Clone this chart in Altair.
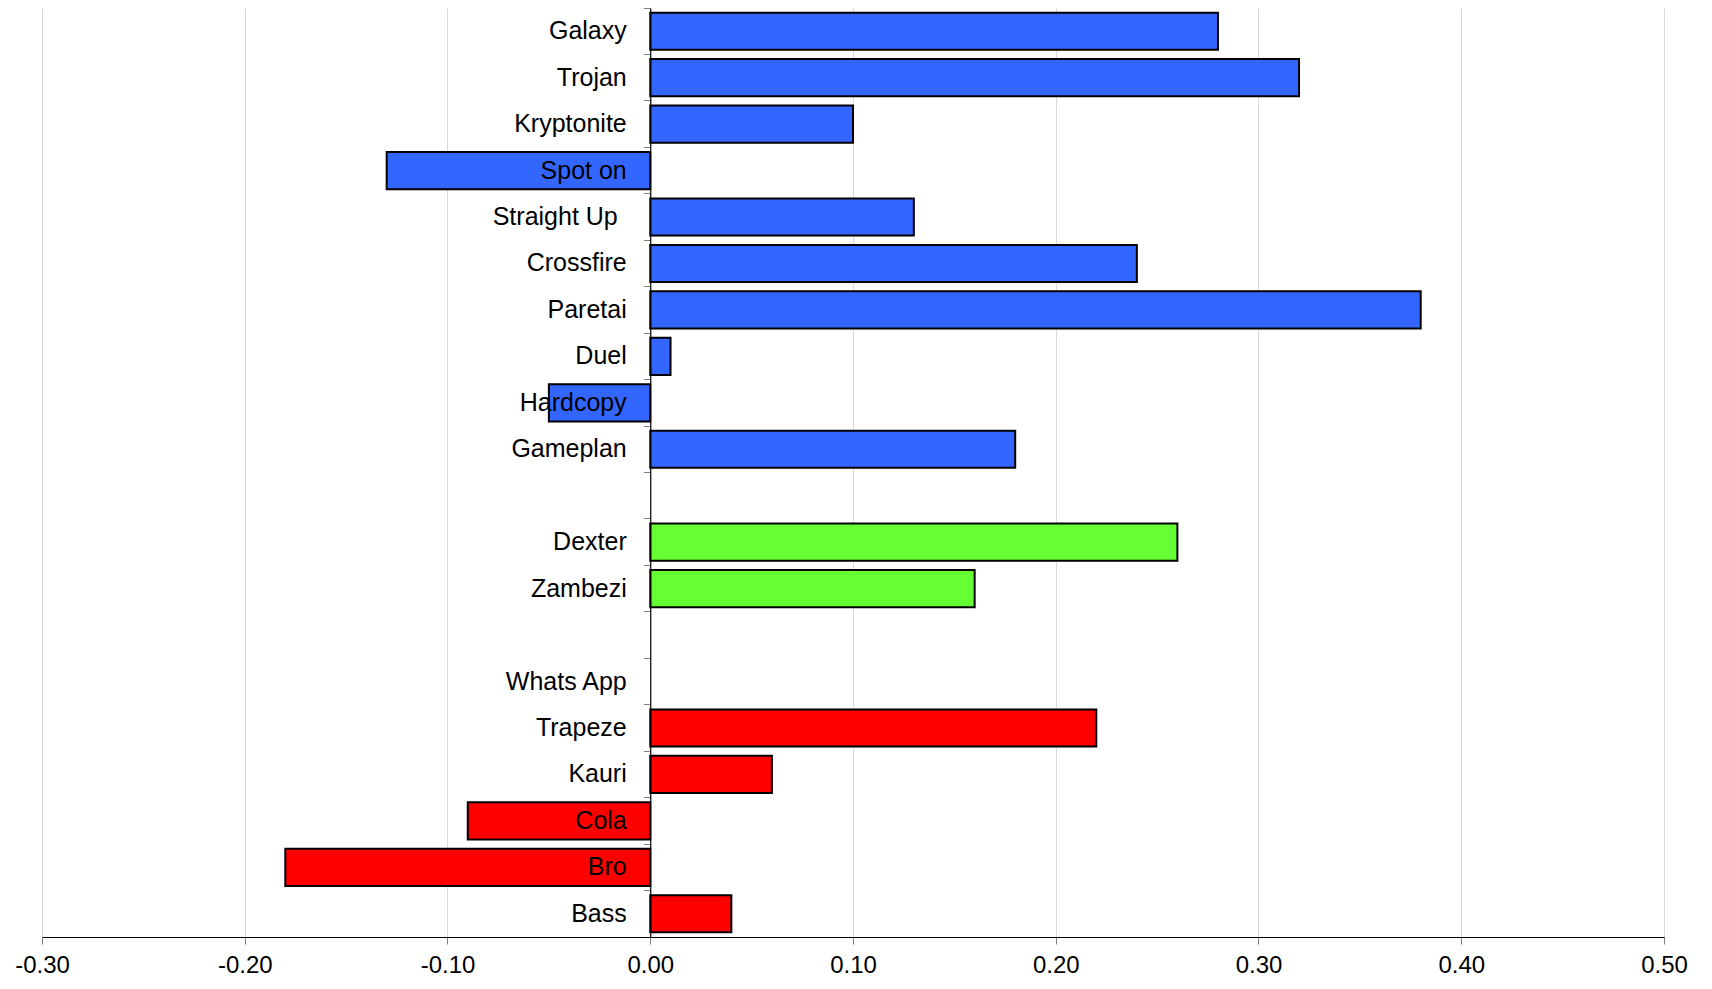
import altair as alt
import pandas as pd

# Row order (top to bottom), including two spacer rows
categories = ["Galaxy", "Trojan", "Kryptonite", "Spot on", "Straight Up", "Crossfire",
              "Paretai", "Duel", "Hardcopy", "Gameplan", " ", "Dexter", "Zambezi", "  ",
              "Whats App", "Trapeze", "Kauri", "Cola", "Bro", "Bass"]

bar_names = ["Galaxy", "Trojan", "Kryptonite", "Spot on", "Straight Up", "Crossfire",
             "Paretai", "Duel", "Hardcopy", "Gameplan", "Dexter", "Zambezi",
             "Trapeze", "Kauri", "Cola", "Bro", "Bass"]
bar_values = [0.28, 0.32, 0.10, -0.13, 0.13, 0.24, 0.38, 0.01, -0.05, 0.18,
              0.26, 0.16, 0.22, 0.06, -0.09, -0.18, 0.04]
bar_groups = ["Blue"] * 10 + ["Green"] * 2 + ["Red"] * 5

group_domain = ["Blue", "Green", "Red"]
group_colors = ["#3366FF", "#66FF33", "#FF0000"]

x_ticks = [-0.3, -0.2, -0.1, 0.0, 0.1, 0.2, 0.3, 0.4, 0.5]

df = pd.DataFrame({"name": bar_names, "value": bar_values, "group": bar_groups})

W, H = 1622, 929
zero_offset = W * 0.3 / 0.8

chart = alt.Chart(df).mark_bar(
    height={"band": 0.8}, stroke="black", strokeWidth=2
).encode(
    x=alt.X("value:Q",
            scale=alt.Scale(domain=[-0.3, 0.5], nice=False, zero=False),
            axis=alt.Axis(values=x_ticks, title=None, grid=True, gridColor="#d9d9d9",
                          domainColor="black", domainWidth=1.2, tickColor="#808080", tickSize=7,
                          labelFontSize=24, labelFont="Liberation Sans", labelColor="black",
                          labelPadding=9, labelFlush=False,
                          labelExpr="datum.value < 0 ? '-' + format(-datum.value, '.2f') : format(datum.value, '.2f')")),
    y=alt.Y("name:N",
            scale=alt.Scale(domain=categories, paddingInner=0, paddingOuter=0),
            sort=categories,
            axis=alt.Axis(title=None, offset=-zero_offset, bandPosition=0, zindex=1,
                          domainColor="black", domainWidth=1.2, tickColor="#808080", tickSize=7,
                          labelPadding={"condition": {"test": "datum.value == 'Straight Up'", "value": 26},
                                        "value": 17},
                          labelFontSize=25, labelFont="Liberation Sans",
                          labelColor="black", labelLimit=0, grid=False)),
    color=alt.Color("group:N", scale=alt.Scale(domain=group_domain, range=group_colors), legend=None),
).properties(
    width=W, height=H,
    autosize=alt.AutoSizeParams(type="none"),
    padding={"left": 34, "top": 0, "right": 40, "bottom": 44},
).configure_view(stroke=None)

chart.save("out.html", embed_options={"renderer": "svg", "actions": False})
